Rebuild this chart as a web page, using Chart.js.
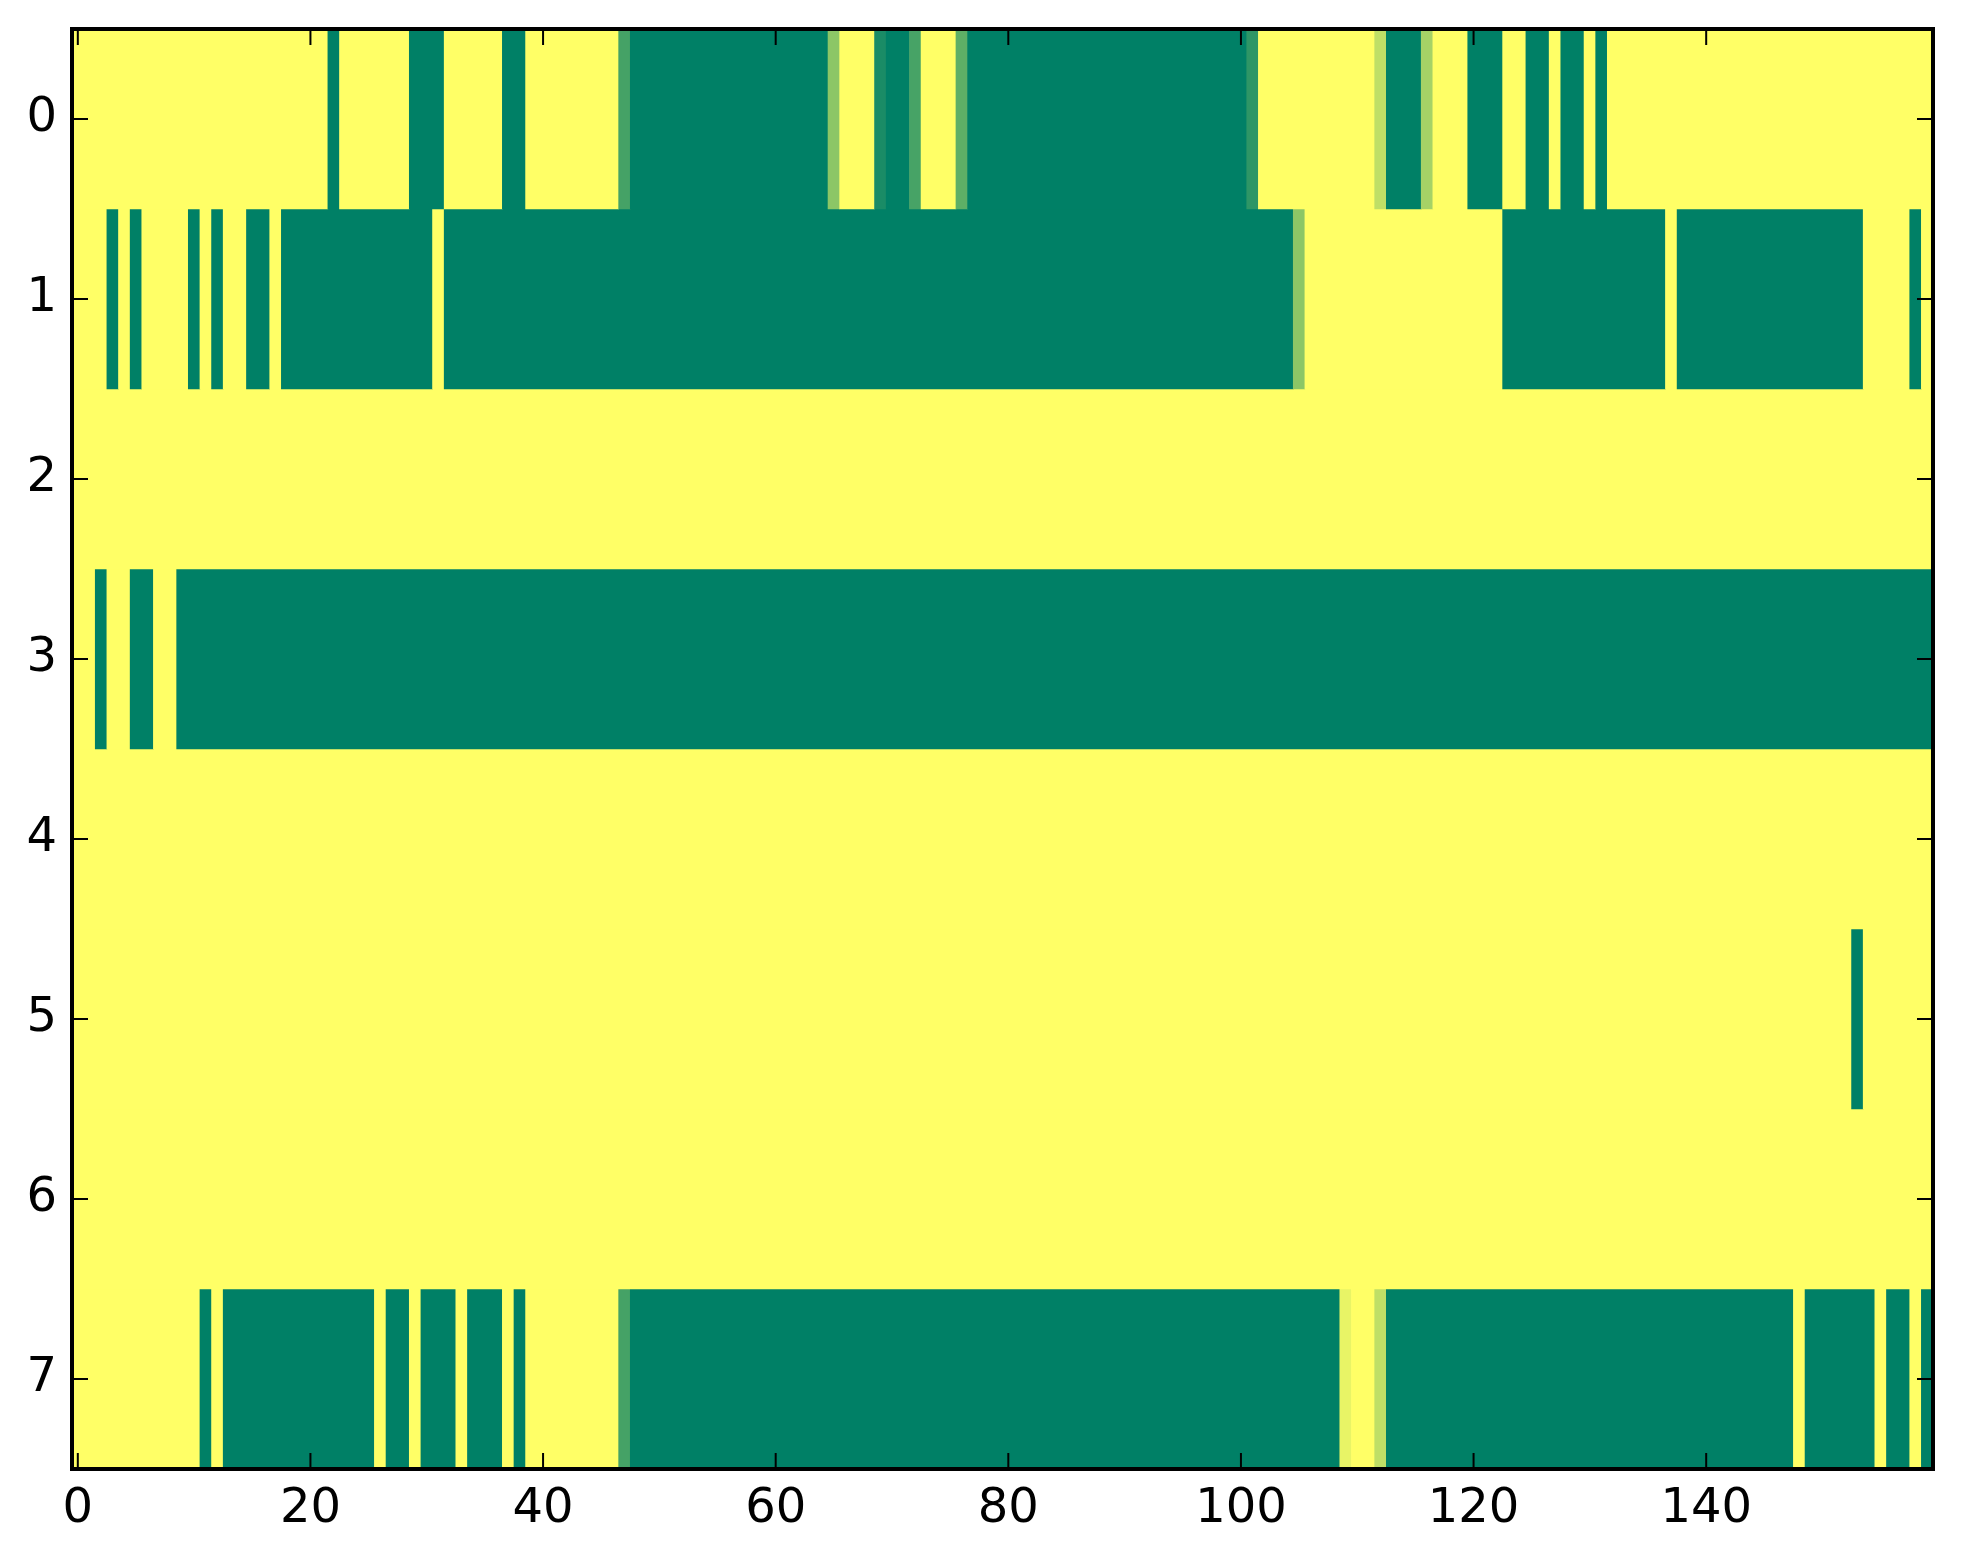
<!DOCTYPE html>
<html lang="en">

<head>
    <meta charset="UTF-8">
    <script src="https://cdn.jsdelivr.net/npm/chart.js@4.4.1/dist/chart.umd.min.js"></script>
    <title>Heatmap</title>
    <style>
        html, body { margin: 0; padding: 0; background: #ffffff; }
        canvas { display: block; }
    </style>
</head>

<body>
    <canvas id="heat" width="1963" height="1564"></canvas>

    <script>
        // tick labels
        const xTicks = [0, 20, 40, 60, 80, 100, 120, 140];
        const yTicks = [0, 1, 2, 3, 4, 5, 6, 7];

        // rows of the image, written as runs: [first column, last column, value]
        const row0 = [[0, 21, 1], [22, 22, 0], [23, 28, 1], [29, 31, 0], [32, 36, 1], [37, 38, 0], [39, 46, 1],
            [47, 47, 0.27], [48, 64, 0], [65, 65, 0.55], [66, 68, 1], [69, 69, 0.1], [70, 71, 0], [72, 72, 0.28],
            [73, 75, 1], [76, 76, 0.37], [77, 100, 0], [101, 101, 0.18], [102, 111, 1], [112, 112, 0.75],
            [113, 115, 0], [116, 116, 0.65], [117, 119, 1], [120, 122, 0], [123, 124, 1], [125, 126, 0],
            [127, 127, 1], [128, 129, 0], [130, 130, 1], [131, 131, 0], [132, 159, 1]];
        const row1 = [[0, 2, 1], [3, 3, 0], [4, 4, 1], [5, 5, 0], [6, 9, 1], [10, 10, 0], [11, 11, 1], [12, 12, 0],
            [13, 14, 1], [15, 16, 0], [17, 17, 1], [18, 30, 0], [31, 31, 1], [32, 104, 0], [105, 105, 0.55],
            [106, 122, 1], [123, 136, 0], [137, 137, 1], [138, 153, 0], [154, 157, 1], [158, 158, 0], [159, 159, 1]];
        const row2 = [[0, 159, 1]];
        const row3 = [[0, 1, 1], [2, 2, 0], [3, 4, 1], [5, 6, 0], [7, 8, 1], [9, 159, 0]];
        const row4 = [[0, 159, 1]];
        const row5 = [[0, 152, 1], [153, 153, 0], [154, 159, 1]];
        const row6 = [[0, 159, 1]];
        const row7 = [[0, 10, 1], [11, 11, 0], [12, 12, 1], [13, 25, 0], [26, 26, 1], [27, 28, 0], [29, 29, 1],
            [30, 32, 0], [33, 33, 1], [34, 36, 0], [37, 37, 1], [38, 38, 0], [39, 46, 1], [47, 47, 0.27],
            [48, 108, 0], [109, 109, 0.91], [110, 111, 1], [112, 112, 0.75], [113, 147, 0], [148, 148, 1],
            [149, 154, 0], [155, 155, 1], [156, 157, 0], [158, 158, 1], [159, 159, 0]];

        const rows = [row0, row1, row2, row3, row4, row5, row6, row7];

        // matplotlib "summer" colormap
        function summer(v) {
            return 'rgb(' + Math.round(255 * v) + ',' + Math.round(255 * (0.5 + 0.5 * v)) + ',102)';
        }

        const datasets = rows.map((runs, r) => ({
            label: 'row ' + r,
            data: runs.map(run => ({ x: [run[0] - 0.5, run[1] + 0.5], y: r })),
            backgroundColor: runs.map(run => summer(run[2])),
            borderWidth: 0,
            borderSkipped: false,
            categoryPercentage: 1,
            barPercentage: 1,
            grouped: false
        }));

        // inward ticks on all four sides plus the black frame
        const frame = {
            id: 'frame',
            afterDraw(chart) {
                const ctx = chart.ctx;
                const a = chart.chartArea;
                const sx = chart.scales.x;
                const sy = chart.scales.y;
                const len = 16;
                ctx.save();
                ctx.strokeStyle = '#000';
                ctx.lineWidth = 2;
                ctx.beginPath();
                xTicks.forEach(v => {
                    const px = sx.getPixelForValue(v);
                    ctx.moveTo(px, a.bottom);
                    ctx.lineTo(px, a.bottom - len);
                    ctx.moveTo(px, a.top);
                    ctx.lineTo(px, a.top + len);
                });
                yTicks.forEach(v => {
                    const py = sy.getPixelForValue(v);
                    ctx.moveTo(a.left, py);
                    ctx.lineTo(a.left + len, py);
                    ctx.moveTo(a.right, py);
                    ctx.lineTo(a.right - len, py);
                });
                ctx.stroke();
                ctx.lineWidth = 4;
                ctx.strokeRect(a.left, a.top, a.right - a.left, a.bottom - a.top);
                ctx.restore();
            }
        };

        Chart.defaults.font.family = '"DejaVu Sans", sans-serif';
        Chart.defaults.font.size = 48;
        Chart.defaults.color = '#000';

        new Chart(document.getElementById('heat').getContext('2d'), {
            type: 'bar',
            data: { datasets: datasets },
            options: {
                indexAxis: 'y',
                responsive: false,
                animation: false,
                devicePixelRatio: 1,
                layout: { padding: { left: 0, top: 29, right: 30, bottom: 0 } },
                plugins: {
                    legend: { display: false },
                    tooltip: { enabled: false }
                },
                scales: {
                    x: {
                        type: 'linear',
                        min: -0.5,
                        max: 159.5,
                        offset: false,
                        grid: { display: false, drawTicks: false },
                        border: { display: false },
                        ticks: { padding: 12, maxRotation: 0 },
                        afterBuildTicks: s => { s.ticks = xTicks.map(v => ({ value: v })); },
                        afterFit: s => { s.height = 95; s.paddingLeft = 0; s.paddingRight = 0; }
                    },
                    y: {
                        type: 'linear',
                        min: -0.5,
                        max: 7.5,
                        reverse: true,
                        offset: false,
                        grid: { display: false, drawTicks: false, offset: false },
                        border: { display: false },
                        ticks: { padding: 15 },
                        afterBuildTicks: s => { s.ticks = yTicks.map(v => ({ value: v })); },
                        afterFit: s => { s.width = 72; s.paddingTop = 0; s.paddingBottom = 0; }
                    }
                }
            },
            plugins: [frame]
        });
    </script>
</body>

</html>
